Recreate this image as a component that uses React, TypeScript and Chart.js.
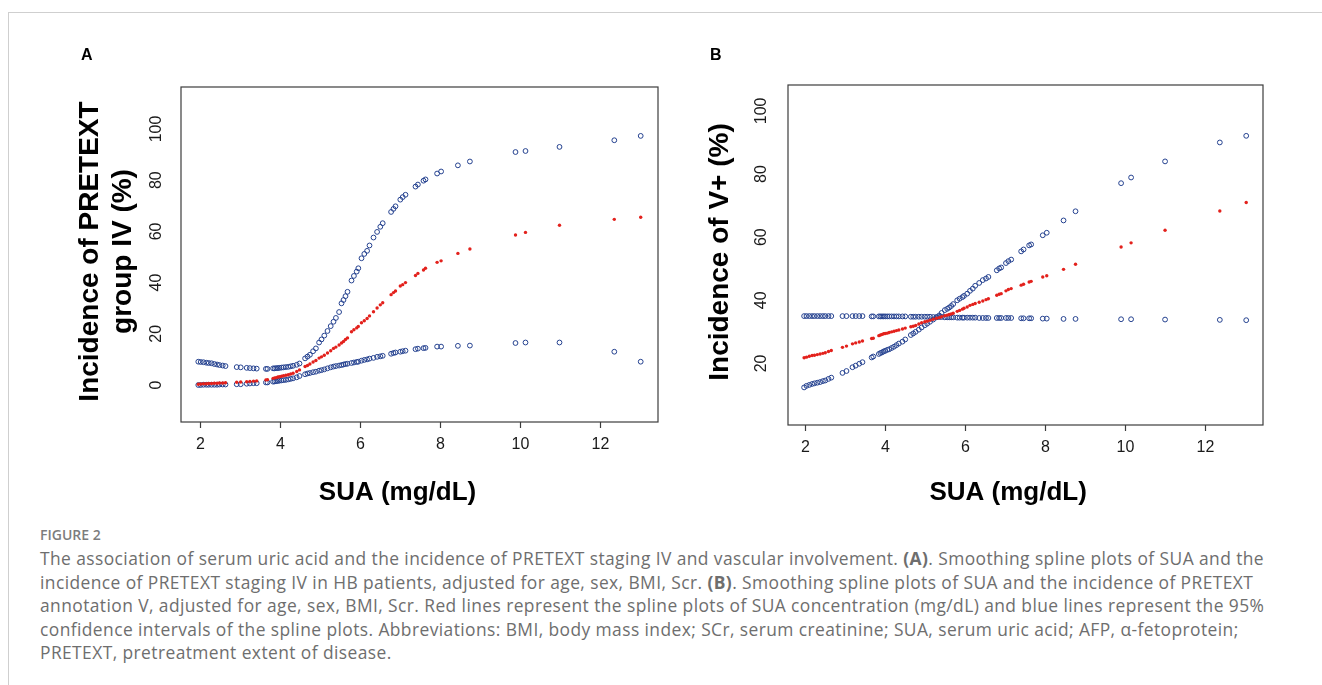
import React, { useEffect, useRef } from "react";
import { Chart, registerables } from "chart.js";

Chart.register(...registerables);

// SUA concentration (mg/dL) of each fitted point
const sua = [
  1.97, 2.03, 2.1, 2.17, 2.23, 2.3, 2.37, 2.44, 2.5, 2.58, 2.65, 2.93, 3.03, 3.18, 3.26, 3.35, 3.43,
  3.66, 3.7, 3.84, 3.88, 3.92, 3.96, 4.0, 4.05, 4.1, 4.16, 4.22, 4.28, 4.34, 4.43, 4.5, 4.64, 4.7,
  4.76, 4.84, 4.91, 4.99, 5.05, 5.12, 5.2, 5.28, 5.35, 5.41, 5.49, 5.55, 5.6, 5.65, 5.7, 5.8, 5.86,
  5.93, 5.97, 6.05, 6.12, 6.19, 6.25, 6.35, 6.44, 6.52, 6.58, 6.79, 6.85, 6.9, 7.02, 7.08, 7.15,
  7.4, 7.46, 7.6, 7.65, 7.94, 8.04, 8.46, 8.76, 9.9, 10.15, 11.0, 12.37, 13.03,
];

// Panel A: incidence of PRETEXT group IV (%)
const aUpper = [
  9.1, 9.0, 8.9, 8.7, 8.6, 8.5, 8.2, 8.0, 7.8, 7.6, 7.4, 7.0, 6.9, 6.7, 6.6, 6.5, 6.4,
  6.3, 6.3, 6.5, 6.5, 6.6, 6.6, 6.7, 6.8, 6.9, 7.0, 7.1, 7.3, 7.5, 7.9, 8.4, 10.4, 11.1,
  11.8, 13.2, 14.3, 16.6, 17.8, 19.3, 21.1, 23.0, 24.7, 26.2, 28.5, 31.9, 33.2, 34.7, 36.4, 40.8, 42.6,
  44.3, 45.6, 49.5, 51.2, 52.4, 54.5, 57.6, 59.8, 61.8, 63.2, 67.6, 68.8, 69.8, 72.4, 73.4, 74.3,
  77.5, 78.3, 79.8, 80.3, 82.6, 83.4, 85.8, 87.3, 91.0, 91.4, 93.0, 95.6, 97.3,
];
const aFit = [
  0.3, 0.4, 0.5, 0.5, 0.6, 0.6, 0.7, 0.7, 0.8, 0.8, 0.9, 1.1, 1.2, 1.3, 1.4, 1.5, 1.6,
  2.0, 2.1, 2.6, 2.8, 2.9, 3.1, 3.2, 3.4, 3.6, 3.8, 4.0, 4.3, 4.6, 5.3, 5.9, 7.2, 7.6,
  8.2, 9.0, 9.6, 10.5, 11.0, 11.6, 12.5, 13.4, 14.3, 14.8, 15.6, 16.4, 17.0, 17.8, 18.4, 20.8, 21.6,
  22.3, 22.9, 24.3, 25.1, 26.0, 27.0, 28.6, 30.1, 31.3, 32.1, 35.3, 36.1, 36.7, 38.7, 39.2, 40.0,
  42.8, 43.6, 44.9, 45.6, 47.9, 48.5, 51.4, 53.1, 58.6, 59.6, 62.4, 64.7, 65.5,
];
const aLower = [
  0.0, 0.0, 0.1, 0.1, 0.1, 0.1, 0.1, 0.1, 0.2, 0.2, 0.2, 0.3, 0.3, 0.5, 0.6, 0.7, 0.7,
  1.0, 1.0, 1.3, 1.4, 1.5, 1.6, 1.7, 1.8, 1.9, 2.0, 2.2, 2.4, 2.6, 3.0, 3.5, 4.2, 4.5,
  4.7, 5.0, 5.2, 5.6, 5.8, 6.1, 6.5, 6.9, 7.2, 7.4, 7.6, 7.8, 8.0, 8.2, 8.3, 8.6, 8.8,
  9.0, 9.1, 9.5, 9.8, 10.0, 10.3, 10.6, 11.0, 11.2, 11.4, 12.2, 12.5, 12.7, 13.0, 13.2, 13.4,
  14.0, 14.2, 14.4, 14.5, 15.0, 15.0, 15.3, 15.4, 16.4, 16.6, 16.6, 13.0, 9.1,
];

// Panel B: incidence of V+ (%)
const bRising = [
  12.4, 12.9, 13.2, 13.5, 13.7, 13.9, 14.1, 14.4, 14.6, 15.1, 15.5, 17.0, 17.6, 18.8, 19.3, 19.9, 20.4,
  21.9, 22.2, 23.0, 23.3, 23.5, 23.8, 24.0, 24.3, 24.5, 24.9, 25.3, 25.8, 26.3, 26.9, 27.6, 29.0, 29.5,
  30.0, 30.7, 31.4, 32.1, 32.6, 33.2, 33.9, 34.6, 35.2, 36.0, 36.9, 37.3, 37.7, 38.2, 38.8, 40.0, 40.5,
  41.0, 41.4, 42.1, 43.0, 43.7, 44.6, 45.5, 46.4, 46.9, 47.4, 49.5, 50.1, 50.4, 51.8, 52.4, 52.9,
  55.5, 56.1, 57.4, 57.7, 60.6, 61.4, 65.3, 68.2, 77.1, 78.9, 84.0, 90.0, 92.1,
];
const bFit = [
  21.8, 22.0, 22.3, 22.5, 22.6, 22.8, 23.0, 23.2, 23.4, 23.8, 24.1, 25.1, 25.5, 26.2, 26.5, 26.8, 27.1,
  27.9, 28.0, 28.8, 29.0, 29.2, 29.4, 29.5, 29.6, 29.8, 30.0, 30.2, 30.4, 30.6, 30.9, 31.2, 31.6, 31.8,
  32.0, 32.5, 32.9, 33.2, 33.4, 33.7, 34.0, 34.3, 34.5, 34.8, 35.1, 35.3, 35.5, 35.7, 35.9, 36.5, 36.8,
  37.2, 37.5, 37.9, 38.4, 38.7, 39.0, 39.4, 39.8, 40.2, 40.5, 41.6, 41.9, 42.1, 43.0, 43.4, 43.7,
  44.8, 45.1, 45.8, 46.0, 47.4, 47.8, 49.8, 51.4, 56.9, 58.2, 62.2, 68.3, 71.0,
];
const bFlat = [
  35.0, 35.0, 35.0, 35.0, 35.0, 35.0, 35.0, 35.0, 35.0, 35.0, 35.0, 35.0, 35.0, 35.0, 35.0, 35.0, 35.0,
  34.9, 34.9, 34.9, 34.9, 34.9, 34.9, 34.9, 34.9, 34.9, 34.9, 34.9, 34.9, 34.9, 34.9, 34.9, 34.8, 34.8,
  34.8, 34.8, 34.8, 34.8, 34.8, 34.8, 34.7, 34.7, 34.7, 34.7, 34.6, 34.6, 34.6, 34.6, 34.6, 34.5, 34.5,
  34.5, 34.5, 34.5, 34.5, 34.5, 34.5, 34.4, 34.4, 34.4, 34.4, 34.4, 34.4, 34.4, 34.4, 34.4, 34.4,
  34.3, 34.3, 34.3, 34.3, 34.2, 34.2, 34.1, 34.1, 34.0, 34.0, 33.9, 33.8, 33.7,
];

const xTicks = [2, 4, 6, 8, 10, 12];
const yTicksA = [0, 20, 40, 60, 80, 100];
const yTicksB = [20, 40, 60, 80, 100];

const xTitle = "SUA (mg/dL)";
const yTitleA = ["Incidence of PRETEXT", "group IV (%)"];
const yTitleB = ["Incidence of V+ (%)"];

const BLUE = "#24418f";
const RED = "#e3211c";
const FONT = '"Liberation Sans", Arial, Helvetica, sans-serif';

type PanelCfg = {
  fit: number[];
  ci1: number[];
  ci2: number[];
  xRange: [number, number];
  yRange: [number, number];
  yTicks: number[];
  yTitle: string[];
  yTitleX: number[];
  xTitleShift: number;
  xTitleY: number;
  tickLabelGap: number;
  padding: { left: number; right: number; top: number; bottom: number };
  width: number;
  height: number;
};

function rAxesPlugin(cfg: PanelCfg) {
  return {
    id: "rAxes",
    afterDraw(chart: any) {
      const { ctx, chartArea: ca } = chart;
      const x = chart.scales.x;
      const y = chart.scales.y;
      ctx.save();
      ctx.strokeStyle = "#3c3c3c";
      ctx.lineWidth = 1.2;
      ctx.strokeRect(ca.left, ca.top, ca.right - ca.left, ca.bottom - ca.top);

      ctx.fillStyle = "#1a1a1a";
      ctx.font = `16px ${FONT}`;
      ctx.textAlign = "center";
      ctx.textBaseline = "middle";
      xTicks.forEach((v) => {
        const px = Math.round(x.getPixelForValue(v)) + 0.5;
        ctx.beginPath();
        ctx.moveTo(px, ca.bottom);
        ctx.lineTo(px, ca.bottom + 6);
        ctx.stroke();
        ctx.fillText(String(v), px, ca.bottom + 23);
      });
      cfg.yTicks.forEach((v) => {
        const py = y.getPixelForValue(v);
        ctx.save();
        ctx.translate(ca.left - cfg.tickLabelGap, py);
        ctx.rotate(-Math.PI / 2);
        ctx.fillText(String(v), 0, 0);
        ctx.restore();
      });

      ctx.fillStyle = "#000";
      ctx.font = `bold 26px ${FONT}`;
      const xc = x.getPixelForValue(7) + cfg.xTitleShift;
      ctx.fillText(xTitle, xc, cfg.xTitleY);

      ctx.font = `bold 28px ${FONT}`;
      const yc = (ca.top + ca.bottom) / 2 - 3;
      cfg.yTitle.forEach((line, i) => {
        ctx.save();
        ctx.translate(cfg.yTitleX[i], yc);
        ctx.rotate(-Math.PI / 2);
        ctx.fillText(line, 0, 0);
        ctx.restore();
      });
      ctx.restore();
    },
  };
}

function Panel({ cfg, left }: { cfg: PanelCfg; left: number }) {
  const ref = useRef<HTMLCanvasElement | null>(null);
  useEffect(() => {
    if (!ref.current) return;
    const pts = (arr: number[]) => sua.map((v, i) => ({ x: v, y: arr[i] }));
    const chart = new Chart(ref.current, {
      type: "scatter",
      data: {
        datasets: [
          {
            data: pts(cfg.fit),
            pointStyle: "circle",
            pointRadius: 1.7,
            pointBackgroundColor: RED,
            pointBorderColor: RED,
            pointBorderWidth: 0,
          },
          {
            data: pts(cfg.ci1),
            pointStyle: "circle",
            pointRadius: 2.4,
            pointBackgroundColor: "rgba(0,0,0,0)",
            pointBorderColor: BLUE,
            pointBorderWidth: 1,
          },
          {
            data: pts(cfg.ci2),
            pointStyle: "circle",
            pointRadius: 2.4,
            pointBackgroundColor: "rgba(0,0,0,0)",
            pointBorderColor: BLUE,
            pointBorderWidth: 1,
          },
        ],
      },
      options: {
        animation: false,
        responsive: false,
        devicePixelRatio: 1,
        layout: { padding: cfg.padding },
        plugins: { legend: { display: false }, tooltip: { enabled: false } },
        events: [],
        scales: {
          x: { type: "linear", display: false, min: cfg.xRange[0], max: cfg.xRange[1] },
          y: { type: "linear", display: false, min: cfg.yRange[0], max: cfg.yRange[1] },
        },
      },
      plugins: [rAxesPlugin(cfg)],
    });
    return () => chart.destroy();
  }, [cfg]);
  return (
    <canvas
      ref={ref}
      width={cfg.width}
      height={cfg.height}
      style={{ position: "absolute", left, top: 0, width: cfg.width, height: cfg.height }}
    />
  );
}

const cfgA: PanelCfg = {
  fit: aFit,
  ci1: aUpper,
  ci2: aLower,
  xRange: [1.5375, 13.4625],
  yRange: [-14.45, 116.4],
  yTicks: yTicksA,
  yTitle: yTitleA,
  yTitleX: [90, 123],
  xTitleShift: -2,
  xTitleY: 493,
  tickLabelGap: 24,
  padding: { left: 181, right: 22, top: 87, bottom: 98 },
  width: 680,
  height: 520,
};

const cfgB: PanelCfg = {
  fit: bFit,
  ci1: bRising,
  ci2: bFlat,
  xRange: [1.567, 13.45],
  yRange: [0.5, 108.2],
  yTicks: yTicksB,
  yTitle: yTitleB,
  yTitleX: [40],
  xTitleShift: 3,
  xTitleY: 493,
  tickLabelGap: 26,
  padding: { left: 108, right: 59, top: 85, bottom: 95 },
  width: 642,
  height: 520,
};

const captionStyle: React.CSSProperties = {
  position: "absolute",
  left: 40,
  top: 547,
  fontFamily: '"Open Sans", "Noto Sans", sans-serif',
  fontSize: 17.4,
  letterSpacing: "0.42px",
  lineHeight: "23.5px",
  color: "#6e6e6e",
  whiteSpace: "nowrap",
};

export default function App() {
  return (
    <div
      style={{
        position: "absolute",
        left: 0,
        top: 0,
        width: 1322,
        height: 685,
        background: "#fff",
        overflow: "hidden",
      }}
    >
      <div
        style={{
          position: "absolute",
          left: 8,
          top: 12,
          width: 1330,
          height: 700,
          borderTop: "1px solid #cfcfcf",
          borderLeft: "1px solid #cfcfcf",
        }}
      />
      <Panel cfg={cfgA} left={0} />
      <Panel cfg={cfgB} left={680} />
      <div style={{ position: "absolute", left: 81, top: 46, font: `bold 16px ${FONT}`, color: "#000" }}>A</div>
      <div style={{ position: "absolute", left: 710, top: 46, font: `bold 16px ${FONT}`, color: "#000" }}>B</div>
      <div
        style={{
          position: "absolute",
          left: 40,
          top: 525,
          fontFamily: '"Open Sans", "Noto Sans", sans-serif',
          fontSize: 14,
          fontWeight: 600,
          color: "#7d7d7d",
        }}
      >
        FIGURE 2
      </div>
      <div style={captionStyle}>
        The association of serum uric acid and the incidence of PRETEXT staging IV and vascular involvement. <b>(A)</b>. Smoothing spline plots of SUA and the
        <br />
        incidence of PRETEXT staging IV in HB patients, adjusted for age, sex, BMI, Scr. <b>(B)</b>. Smoothing spline plots of SUA and the incidence of PRETEXT
        <br />
        annotation V, adjusted for age, sex, BMI, Scr. Red lines represent the spline plots of SUA concentration (mg/dL) and blue lines represent the 95%
        <br />
        confidence intervals of the spline plots. Abbreviations: BMI, body mass index; SCr, serum creatinine; SUA, serum uric acid; AFP, α-fetoprotein;
        <br />
        PRETEXT, pretreatment extent of disease.
      </div>
    </div>
  );
}
